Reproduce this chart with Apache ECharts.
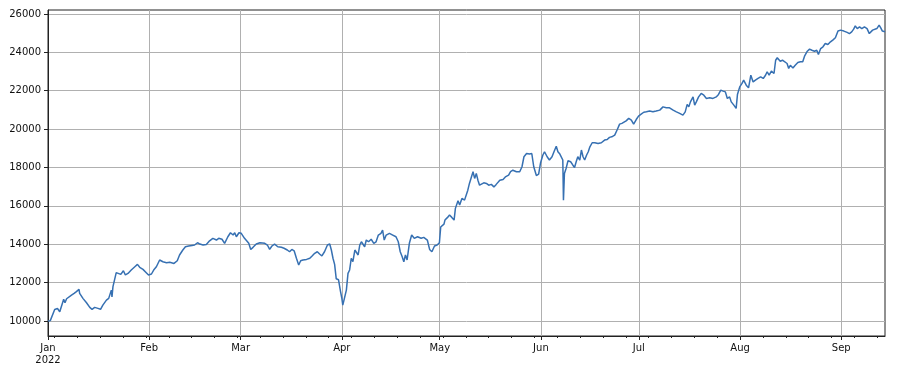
<!DOCTYPE html>
<html>
<head>
<meta charset="utf-8">
<script src="https://cdn.jsdelivr.net/npm/echarts@6/dist/echarts.min.js"></script>
<style>
html,body{margin:0;padding:0;background:#fff;}
#chart{width:921px;height:371px;}
</style>
</head>
<body>
<div id="chart"></div>
<script>
// Days elapsed since 2022-01-01 (fractional) and the index values
const dayOffsets = [0,0.7,1.3,2.05,2.9,3.6,4.1,4.8,5.2,5.7,6.3,7.2,8,8.7,9.2,9.5,9.7,10.7,11.8,12.8,13.5,14.3,15.3,16.1,16.8,17.9,18.6,19,19.4,19.6,19.9,20.4,20.9,21.5,22.3,23.1,23.7,24.5,25.5,26.6,27.4,28.1,29.1,30.1,30.8,31.7,32.5,33.2,34.2,35.2,36.3,37.3,38.6,39.6,40.3,41.3,42.1,43.1,44.1,44.9,45.8,46.5,47.5,48.5,49.5,50.5,51.6,52.3,53.3,54.1,55.1,55.9,56.7,57.2,57.7,58.5,59.2,60.2,60.8,61.5,62.1,62.8,63.8,64.9,65.5,66.4,67.2,67.9,68.6,69.4,70.4,71.5,72.3,73.3,74,74.7,75.4,76.1,76.8,77.4,78.1,79.2,80.2,80.9,81.7,82.5,83.2,83.9,84.7,85.6,86.3,86.8,87.3,87.8,88.3,89,89.6,90,90.3,90.8,91.4,91.9,92.4,92.9,93.4,94,94.5,95,95.5,96,96.5,97,97.5,98.2,99,99.8,100.5,101.2,102,102.5,103,103.6,104.6,105.6,106.6,107.3,107.9,108.5,109,109.5,110,110.7,111.4,112.2,113.2,114.3,115.1,116.2,116.9,117.6,118.4,119.2,119.9,120.3,120.8,121.3,121.6,122.4,123,123.7,124.4,124.8,125.6,126.1,126.8,127.6,128.1,128.6,129.1,129.7,130.2,130.7,131.2,131.7,132.2,132.7,133.5,134.3,135,135.8,136.6,137.3,138.4,139.4,140.1,141.1,141.7,142.4,143.5,144.5,145.2,145.8,146.6,147.5,148.2,148.8,149.6,150.3,150.9,151.6,152.1,152.9,153.6,154.4,155,155.7,156.2,156.8,157.3,157.7,157.9,158.2,158.7,159.3,160.1,160.8,161.3,161.8,162.3,162.9,163.4,163.9,164.4,165,165.5,166,166.7,167.5,168.5,169.5,170.5,171.3,172,172.7,173.6,174.4,175.1,175.8,176.4,177.1,177.9,178.7,179.4,180.2,180.9,181.7,182.5,183.3,184.3,185.3,186.3,187.4,188.4,189.4,190.4,191.5,192.5,193.5,194.5,195.2,195.8,196.3,196.8,197.6,198.1,198.6,199.3,200.1,200.9,201.7,202.7,203.7,204.7,205.4,206.1,206.8,207.5,208.1,208.8,209.3,210.1,210.8,211.2,211.9,212.6,213.1,213.9,214.6,215.3,216,216.7,217.5,218.3,219.1,219.8,220.3,220.9,221.6,222.4,222.9,223.4,224.3,225,225.7,226.4,226.9,227.4,228.2,228.9,229.7,230.5,231.2,231.8,232.6,233.3,234,234.8,235.5,236,236.7,237.4,238.1,238.9,239.7,240.4,241.2,242,242.8,243.8,244.8,245.5,246.2,246.8,247.3,247.9,248.6,249.3,250.1,250.9,251.6,252.1,252.6,253.1,253.9,254.6,255.1,255.6,256.4];
const values = [10000,10020,10000,10600,10650,10480,10570,11130,10950,11160,11130,11350,11440,11530,11610,11650,11440,11180,10950,10710,10610,10710,10660,10610,10830,11090,11180,11270,11610,11250,11790,11870,12520,12480,12430,12620,12400,12480,12660,12830,12950,12800,12690,12520,12400,12450,12690,12830,13180,13090,13040,13060,13000,13140,13440,13700,13870,13910,13940,13960,14080,14010,13960,13990,14180,14310,14220,14310,14260,14050,14390,14600,14480,14600,14390,14600,14570,14310,14220,14050,13730,13840,14010,14080,14180,14050,13960,13730,13910,14010,13870,13840,13790,13700,13610,13730,13660,13270,12920,13140,13180,13210,13270,13390,13530,13610,13490,13390,13610,13960,14010,13700,13270,12950,12200,12150,11550,11200,10830,11180,11610,12480,12660,13270,13090,13700,13790,13440,13960,14130,14050,13870,14220,14130,14260,14050,14130,14480,14570,14740,14220,14480,14570,14480,14390,14130,13610,13350,13090,13440,13180,14050,14480,14310,14390,14310,14360,14220,13730,13610,13910,13960,14080,14900,14830,15050,15260,15400,15520,15400,15260,15870,16270,16040,16390,16300,16390,16820,17170,17260,17780,17430,17690,17340,17080,16990,17200,17170,17080,17120,16990,17120,17340,17380,17510,17600,17780,17860,17780,17780,18040,18560,18730,18700,18730,18040,17580,17650,18250,18650,18820,18560,18390,18560,18820,19110,18820,18700,18730,18390,16300,17690,17950,18350,18300,18120,18000,18300,18560,18390,18910,18560,18390,18650,18820,19080,19290,19290,19250,19290,19430,19460,19570,19600,19690,19980,20260,20300,20210,20430,20560,20470,20260,20500,20680,20780,20880,20900,20940,20900,20940,20990,21160,21110,21110,20990,20900,20820,20730,20900,21290,21160,21420,21680,21250,21420,21680,21860,21770,21600,21630,21600,21680,21810,22030,21980,21940,21600,21680,21420,21250,21080,21800,22200,22380,22550,22290,22150,22810,22460,22550,22640,22720,22640,22810,22990,22810,23020,22900,23590,23720,23540,23590,23510,23420,23160,23330,23190,23330,23470,23510,23510,23820,24060,24170,24110,24060,24110,23890,24200,24290,24460,24410,24550,24640,24760,25110,25160,25110,25040,24980,25070,25210,25380,25240,25330,25240,25330,25240,24980,24920,25160,25110,25240,25420,25280,25110,25070];

// Tick labels
const monthStarts = ['2022-01-01','2022-02-01','2022-03-01','2022-04-01','2022-05-01','2022-06-01','2022-07-01','2022-08-01','2022-09-01'];
const monthLabels = ['Jan\n2022','Feb','Mar','Apr','May','Jun','Jul','Aug','Sep'];
const yTicks = [10000,12000,14000,16000,18000,20000,22000,24000,26000];
const firstMonday = '2022-01-03';

const DAY = 86400000;
const t0 = Date.UTC(2022,0,1);
const toMs = s => { const p = s.split('-').map(Number); return Date.UTC(p[0], p[1]-1, p[2]); };
const monthMs = monthStarts.map(toMs);
const xMax = t0 + dayOffsets[dayOffsets.length-1]*DAY;
const mondays = [];
for (let t = toMs(firstMonday); t <= xMax; t += 7*DAY) mondays.push(t);
const labelMap = {};
monthMs.forEach((m,i) => labelMap[m] = monthLabels[i]);

const data = dayOffsets.map((d,i) => [t0 + d*DAY, values[i]]);

const font = {fontFamily: 'DejaVu Sans', fontSize: 10, color: '#111'};
const chart = echarts.init(document.getElementById('chart'), null, {renderer: 'canvas'});
chart.setOption({
  animation: false,
  backgroundColor: '#fff',
  grid: {left: 48, right: 36, top: 10, bottom: 35, show: true, borderColor: '#222', borderWidth: 1, backgroundColor: 'transparent'},
  xAxis: [{
    type: 'value', min: t0, max: xMax,
    axisLine: {show: true, lineStyle: {color: '#222', width: 1}},
    axisTick: {show: true, length: 4, lineStyle: {color: '#222', width: 1}, customValues: monthMs},
    axisLabel: Object.assign({show: true, margin: 6, lineHeight: 12, customValues: monthMs,
      formatter: v => labelMap[v] || ''}, font),
    splitLine: {show: true, lineStyle: {color: '#b0b0b0', width: 1}}
  }, {
    type: 'value', min: t0, max: xMax, position: 'bottom',
    axisLine: {show: false},
    axisTick: {show: true, length: 2, lineStyle: {color: '#222', width: 1}, customValues: mondays},
    axisLabel: {show: false},
    splitLine: {show: false}
  }],
  yAxis: {
    type: 'value', min: 9219, max: 26208,
    axisLine: {show: true, lineStyle: {color: '#222', width: 1}},
    axisTick: {show: true, length: 4, lineStyle: {color: '#222', width: 1}, customValues: yTicks},
    axisLabel: Object.assign({show: true, margin: 7, customValues: yTicks, formatter: v => String(v)}, font),
    splitLine: {show: true, lineStyle: {color: '#b0b0b0', width: 1}}
  },
  series: [{
    type: 'line', data: data, showSymbol: false, symbol: 'none',
    lineStyle: {color: '#3670b2', width: 1.5}, itemStyle: {color: '#3670b2'},
    xAxisIndex: 0, yAxisIndex: 0
  }]
});
</script>
</body>
</html>
